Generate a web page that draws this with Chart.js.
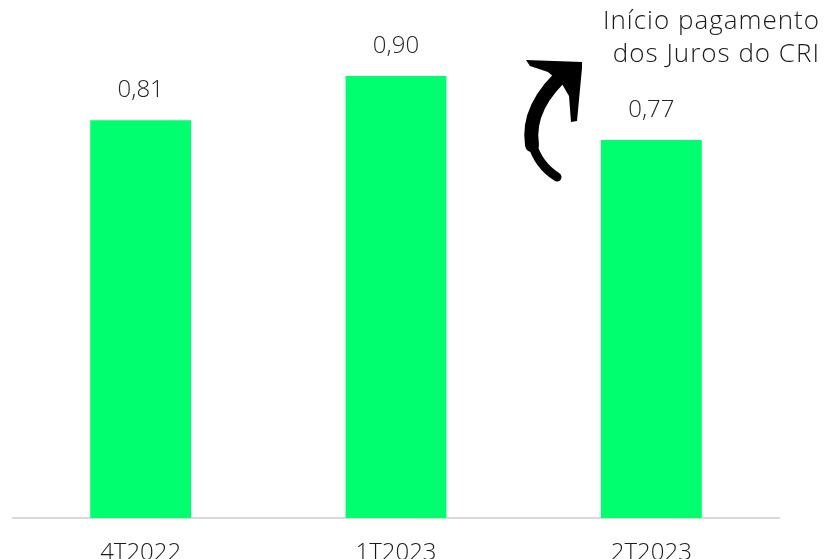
<!DOCTYPE html>
<html>
<head>
<meta charset="utf-8">
<script src="https://cdn.jsdelivr.net/npm/chart.js@4.4.0/dist/chart.umd.min.js"></script>
<style>
    html, body { margin: 0; padding: 0; background: #ffffff; }
    #wrap { position: relative; width: 829px; height: 559px; overflow: hidden; }
</style>
</head>
<body>
<div id="wrap">
    <canvas id="barChart" width="829" height="559"></canvas>
</div>
<script>
// Chart data
const periods = ['4T2022', '1T2023', '2T2023'];
const values = [0.81, 0.90, 0.77];
const valueLabels = ['0,81', '0,90', '0,77'];
const noteLines = ['Início pagamento', 'dos Juros do CRI'];

const barGreen = '#00ff6e';
const textFont = '"Open Sans", "Noto Sans", sans-serif';

// Value labels above bars, category labels below axis
const labelPlugin = {
    id: 'labels',
    afterDatasetsDraw(chart) {
        const ctx = chart.ctx;
        const meta = chart.getDatasetMeta(0);
        const xScale = chart.scales.x;
        ctx.save();
        ctx.font = '300 24px ' + textFont;
        ctx.fillStyle = '#262626';
        ctx.textAlign = 'center';
        ctx.textBaseline = 'middle';
        meta.data.forEach((bar, i) => {
            ctx.fillText(valueLabels[i], bar.x, bar.y - 30);
        });

        // category labels, partly cut by the bottom edge
        ctx.fillStyle = '#1a1a1a';
        ctx.textBaseline = 'alphabetic';
        periods.forEach((p, i) => {
            ctx.fillText(p, xScale.getPixelForValue(i), 560);
        });
        ctx.restore();
    }
};

// Annotation text + brush arrow
const notePlugin = {
    id: 'note',
    afterDraw(chart) {
        const ctx = chart.ctx;
        ctx.save();
        ctx.font = '300 26px ' + textFont;
        ctx.fillStyle = '#1a1a1a';
        ctx.letterSpacing = '1px';
        ctx.textAlign = 'right';
        ctx.textBaseline = 'middle';
        ctx.fillText(noteLines[0], 820, 22);
        ctx.fillText(noteLines[1], 820, 55);
        ctx.letterSpacing = '0px';

        ctx.strokeStyle = '#000000';
        ctx.fillStyle = '#000000';
        ctx.lineCap = 'round';

        // shaft, thick at the top, thinner at the bottom
        ctx.lineWidth = 14;
        ctx.beginPath();
        ctx.moveTo(568, 70);
        ctx.quadraticCurveTo(526, 106, 532, 145);
        ctx.stroke();
        ctx.lineWidth = 9;
        ctx.beginPath();
        ctx.moveTo(532, 143);
        ctx.quadraticCurveTo(538, 165, 557, 177);
        ctx.stroke();

        // head: top bar, right arm, filled corner
        ctx.beginPath();
        ctx.moveTo(526, 60);
        ctx.lineTo(582, 62);
        ctx.lineTo(582, 68);
        ctx.lineTo(577, 121);
        ctx.lineTo(571, 122);
        ctx.lineTo(569, 96);
        ctx.lineTo(562, 84);
        ctx.lineTo(548, 72);
        ctx.lineTo(530, 66);
        ctx.closePath();
        ctx.fill();
        ctx.restore();
    }
};

const chart = new Chart(document.getElementById('barChart').getContext('2d'), {
    type: 'bar',
    data: {
        labels: periods,
        datasets: [{
            data: values,
            backgroundColor: barGreen,
            borderWidth: 0,
            barPercentage: 0.395,
            categoryPercentage: 1.0
        }]
    },
    options: {
        responsive: false,
        animation: false,
        layout: {
            padding: { left: 13, right: 50, top: 27, bottom: 41 }
        },
        plugins: {
            legend: { display: false },
            tooltip: { enabled: false }
        },
        scales: {
            x: {
                grid: { display: false, drawTicks: false },
                border: { display: true, color: '#d9d9d9', width: 2 },
                ticks: { display: false }
            },
            y: {
                display: false,
                min: 0,
                max: 1.0
            }
        }
    },
    plugins: [labelPlugin, notePlugin]
});
</script>
</body>
</html>
